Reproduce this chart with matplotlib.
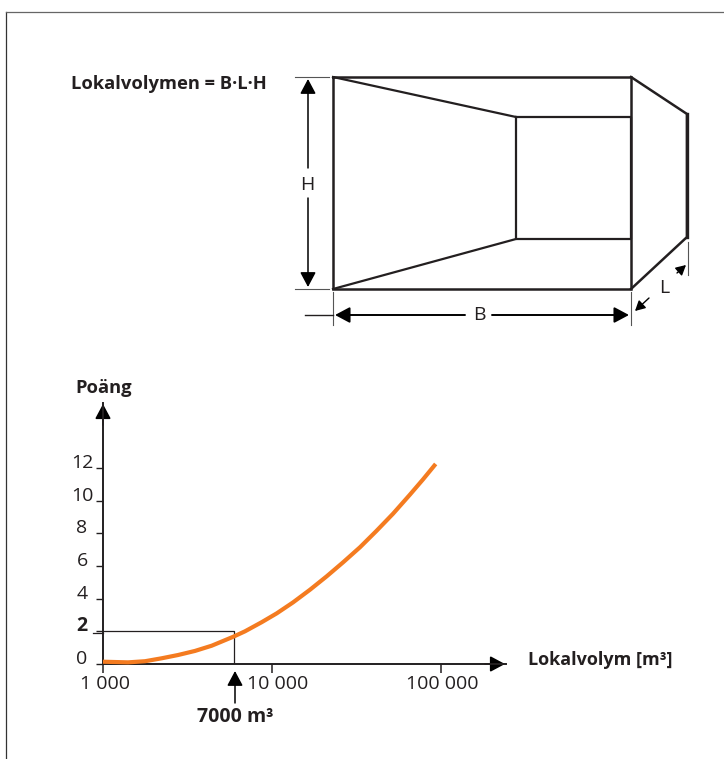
import matplotlib
matplotlib.use("Agg")
import matplotlib.pyplot as plt

plt.rcParams['font.family'] = ['Open Sans', 'DejaVu Sans']

W, H = 724, 759
INK = "#231f20"
ORANGE = "#f47b20"

# curve
volume = [1000, 1406, 1772, 2225, 2779, 3501, 4398, 5902, 6918, 8690, 10660, 13310, 16790,
          21070, 26300, 33170, 41500, 52000, 65600, 78200, 93000]
points = [0.14, 0.10, 0.17, 0.35, 0.55, 0.80, 1.12, 1.67, 2.00, 2.56, 3.10, 3.77, 4.55,
          5.37, 6.22, 7.15, 8.15, 9.20, 10.38, 11.30, 12.25]
y_ticks = [0, 2, 4, 6, 8, 10, 12]
y_labels = ["0", "2", "4", "6", "8", "10", "12"]
x_ticks = [1000, 10000, 100000]
x_labels = ["1 000", "10 000", "100 000"]
marked_volume = 5960
marked_points = 2

# room sketch, picture pixels
room_outer_x = [333, 631, 631, 333, 333]
room_outer_y = [77, 77, 289, 289, 77]
back_x = [516, 631, 631, 516, 516]
back_y = [117, 117, 239, 239, 117]
left_top_x = [333, 516]
left_top_y = [77, 117]
left_bot_x = [333, 516]
left_bot_y = [289, 239]
side_x = [631, 687, 687, 631]
side_y = [77, 114, 237, 289]

fig = plt.figure(figsize=(W / 100, H / 100), dpi=100)

# full page axes in pixels
page = fig.add_axes([0, 0, 1, 1])
page.set_xlim(0, W)
page.set_ylim(H, 0)
page.axis("off")

page.plot([6, 6], [12, H], color="#333333", lw=0.9)
page.plot([6, W], [12, 12], color="#666666", lw=0.9)

page.plot(room_outer_x, room_outer_y, color=INK, lw=1.8, solid_joinstyle="miter")
page.plot(back_x, back_y, color=INK, lw=1.6)
page.plot(left_top_x, left_top_y, color=INK, lw=1.6)
page.plot(left_bot_x, left_bot_y, color=INK, lw=1.6)
page.plot(side_x, side_y, color=INK, lw=1.8)
page.plot([687, 687], [114, 237], color=INK, lw=2.4)


def arrow(ax, start, end, scale=12, lw=1.1):
    ax.annotate("", xy=end, xytext=start, annotation_clip=False,
                arrowprops=dict(arrowstyle="-|>,head_length=0.75,head_width=0.4",
                                color="black", lw=lw, mutation_scale=scale,
                                shrinkA=0, shrinkB=0))


# dimension lines
page.plot([295, 329], [77, 77], color="#555555", lw=0.8)
page.plot([295, 329], [289, 289], color="#555555", lw=0.8)
page.plot([333, 333], [292, 325], color="#555555", lw=0.8)
page.plot([631, 631], [292, 325], color="#555555", lw=0.8)
page.plot([305, 333], [315, 315], color=INK, lw=1.0)
page.plot([688, 688], [242, 275], color="#555555", lw=0.8)
arrow(page, (308, 168), (308, 79))
arrow(page, (308, 198), (308, 287))
arrow(page, (465, 315), (335, 315), lw=1.4)
arrow(page, (492, 315), (629, 315), lw=1.4)
arrow(page, (649, 298), (635, 311), scale=8, lw=1.0)
arrow(page, (677, 273), (686, 265), scale=8, lw=1.0)

page.text(307, 185, "H", fontsize=14, ha="center", va="center", color=INK)
page.text(479, 315, "B", fontsize=14, ha="center", va="center", color=INK)
page.text(664, 288, "L", fontsize=14, ha="center", va="center", color=INK)
page.text(71, 84, "Lokalvolymen = B\u00b7L\u00b7H", fontsize=13.2, fontweight="bold",
          ha="left", va="center", color=INK)

# chart axes, placed to match the picture
left, right, top, bottom = 103, 506, 403, 664
ax = fig.add_axes([left / W, 1 - bottom / H, (right - left) / W, (bottom - top) / H])
ax.patch.set_alpha(0)
ax.set_xscale("log")
ax.set_xlim(1000, 1000 * 10 ** ((right - left) / 169))
ax.set_ylim(0, (bottom - top) / 16.33)
for side in ["top", "right"]:
    ax.spines[side].set_visible(False)
for side in ["left", "bottom"]:
    ax.spines[side].set_color(INK)
    ax.spines[side].set_linewidth(1.4)

ax.plot(volume, points, color=ORANGE, lw=3.0, solid_capstyle="butt", zorder=4, clip_on=False)
ax.plot([1000, marked_volume, marked_volume], [marked_points, marked_points, 0],
        color=INK, lw=0.9, zorder=3)

ax.set_xticks(x_ticks)
ax.set_xticklabels([])
ax.minorticks_off()
ax.tick_params(axis="x", direction="out", length=6.5, width=1.1, color=INK)
ax.set_yticks(y_ticks)
ax.set_yticklabels([])
ax.tick_params(axis="y", direction="out", length=5, width=1.0, color=INK)

# tick labels sit offset from their ticks in the original
px = 72 / 100
for val, lab in zip(y_ticks, y_labels):
    ax.annotate(lab, (1000, val), xytext=(-21 * px, 5 * px), textcoords="offset points",
                ha="center", va="center", fontsize=14, color=INK,
                fontweight="bold" if val == marked_points else "normal")
for val, lab, dx in zip(x_ticks, x_labels, [2, 6, 1]):
    ax.annotate(lab, (val, 0), xytext=(dx * px, -20 * px), textcoords="offset points",
                ha="center", va="center", fontsize=14, color=INK, annotation_clip=False)

# the marked level line runs out past the axis to the label
page.plot([93, 103], [632.5, 632.5], color=INK, lw=0.9)

# axis arrow heads
arrow(page, (103, 425), (103, 404), lw=1.2)
arrow(page, (485, 664), (505, 664), lw=1.2)
arrow(page, (235, 703), (235, 671), lw=1.1)

page.text(75, 388, "Po\u00e4ng", fontsize=13.2, fontweight="bold", ha="left", va="center", color=INK)
page.text(528, 660, "Lokalvolym [m\u00b3]", fontsize=13, fontweight="bold", ha="left", va="center", color=INK)
page.text(197, 717, "7000 m\u00b3", fontsize=14, fontweight="bold", ha="left", va="center", color=INK)

fig.savefig("out.png", dpi=100)
